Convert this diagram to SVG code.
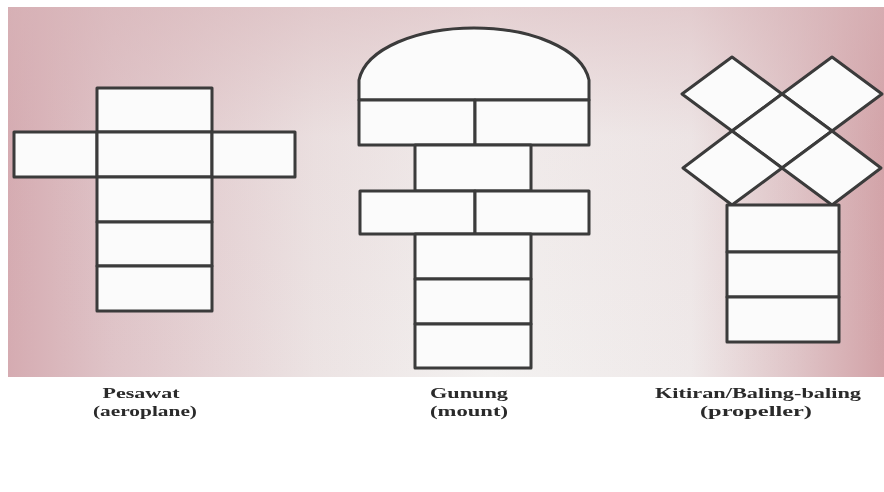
<svg xmlns="http://www.w3.org/2000/svg" width="884" height="492" viewBox="0 0 884 492">
<defs>
<linearGradient id="bgh" x1="8" y1="0" x2="884" y2="0" gradientUnits="userSpaceOnUse">
<stop offset="0" stop-color="#d5abb1"/>
<stop offset="0.12" stop-color="#dfc4c8"/>
<stop offset="0.35" stop-color="#ece3e3"/>
<stop offset="0.55" stop-color="#f3f1f0"/>
<stop offset="0.78" stop-color="#efe9e9"/>
<stop offset="0.9" stop-color="#dfc4c7"/>
<stop offset="1" stop-color="#d2a2a7"/>
</linearGradient>
<linearGradient id="bgv" x1="0" y1="7" x2="0" y2="377" gradientUnits="userSpaceOnUse">
<stop offset="0" stop-color="#d8b4b8" stop-opacity="0.55"/>
<stop offset="0.35" stop-color="#d8b4b8" stop-opacity="0.1"/>
<stop offset="1" stop-color="#d8b4b8" stop-opacity="0"/>
</linearGradient>
<filter id="soft" x="-5%" y="-5%" width="110%" height="110%"><feGaussianBlur stdDeviation="0.6"/></filter>
</defs>
<style>
.cell{fill:#fbfbfb;stroke:#3a3a3a;stroke-width:3;stroke-linejoin:round}
.lbl{font-family:"Liberation Serif","Times New Roman",serif;font-weight:bold;font-size:14px;fill:#2a2a2a;text-anchor:middle}
</style>
<rect width="884" height="492" fill="#ffffff"/>
<rect x="8" y="7" width="876" height="370" fill="url(#bgh)"/>
<rect x="8" y="7" width="876" height="370" fill="url(#bgv)"/>
<g filter="url(#soft)">
<g id="aeroplane">
<rect class="cell" x="97" y="88" width="115" height="44"/>
<rect class="cell" x="14" y="132" width="83" height="45"/>
<rect class="cell" x="97" y="132" width="115" height="45"/>
<rect class="cell" x="212" y="132" width="83" height="45"/>
<rect class="cell" x="97" y="177" width="115" height="45"/>
<rect class="cell" x="97" y="222" width="115" height="44"/>
<rect class="cell" x="97" y="266" width="115" height="45"/>
</g>
<g id="mount">
<path class="cell" d="M359,100 L359,80 C366,48 418,28 474,28 C530,28 582,48 589,80 L589,100 Z"/>
<rect class="cell" x="359" y="100" width="116" height="45"/>
<rect class="cell" x="475" y="100" width="114" height="45"/>
<rect class="cell" x="415" y="145" width="116" height="46"/>
<rect class="cell" x="360" y="191" width="115" height="43"/>
<rect class="cell" x="475" y="191" width="114" height="43"/>
<rect class="cell" x="415" y="234" width="116" height="45"/>
<rect class="cell" x="415" y="279" width="116" height="45"/>
<rect class="cell" x="415" y="324" width="116" height="44"/>
</g>
<g id="propeller">
<polygon class="cell" points="732,57 782,94 732,131 682,94"/>
<polygon class="cell" points="832,57 882,94 832,131 782,94"/>
<polygon class="cell" points="782,94 832,131 782,168 732,131"/>
<polygon class="cell" points="732,131 782,168 732,205 683,168"/>
<polygon class="cell" points="832,131 881,168 832,205 782,168"/>
<rect class="cell" x="727" y="205" width="112" height="47"/>
<rect class="cell" x="727" y="252" width="112" height="45"/>
<rect class="cell" x="727" y="297" width="112" height="45"/>
</g>
</g>
<g id="labels" filter="url(#soft)">
<text class="lbl" x="141" y="398" textLength="77" lengthAdjust="spacingAndGlyphs">Pesawat</text>
<text class="lbl" x="145" y="416" textLength="104" lengthAdjust="spacingAndGlyphs">(aeroplane)</text>
<text class="lbl" x="469" y="398" textLength="78" lengthAdjust="spacingAndGlyphs">Gunung</text>
<text class="lbl" x="469" y="416" textLength="78" lengthAdjust="spacingAndGlyphs">(mount)</text>
<text class="lbl" x="758" y="398" textLength="206" lengthAdjust="spacingAndGlyphs">Kitiran/Baling-baling</text>
<text class="lbl" x="756" y="416" textLength="112" lengthAdjust="spacingAndGlyphs">(propeller)</text>
</g>
</svg>
